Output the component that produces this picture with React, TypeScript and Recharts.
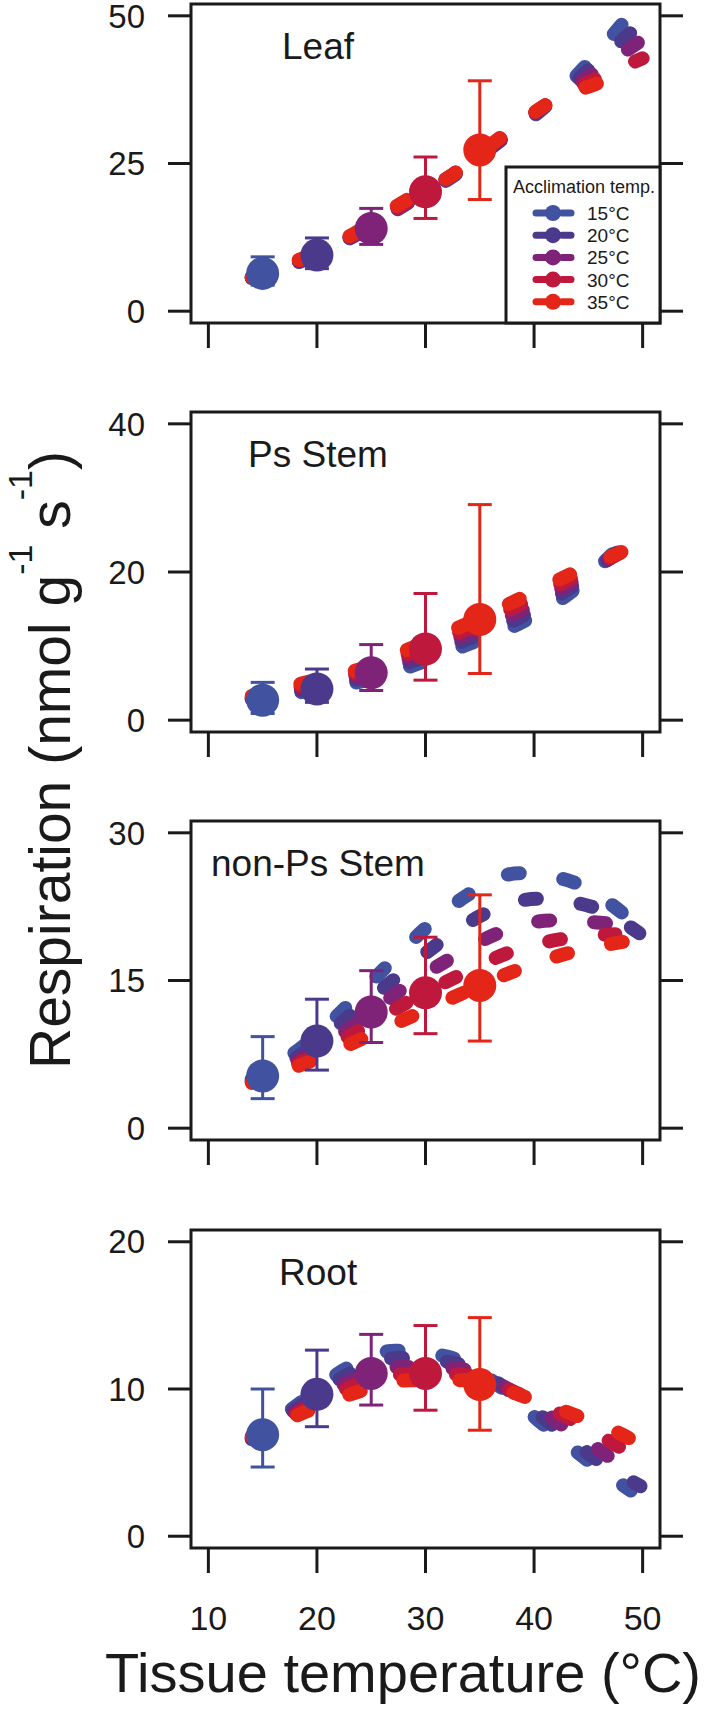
import React from 'react';
import { ComposedChart, Line, Scatter, XAxis, YAxis, ErrorBar, ReferenceArea } from 'recharts';

const FONT = '"Liberation Sans", Arial, Helvetica, sans-serif';
const INK = '#1a1a1a';

const acclimTemps = [15, 20, 25, 30, 35];
const acclimLabels = ['15°C', '20°C', '25°C', '30°C', '35°C'];
const acclimColors = ['#4152a0', '#4b3a8c', '#7e2378', '#be193c', '#e42618'];

const tempTicks = [10, 20, 30, 40, 50];

// [tissue temp, respiration] per acclimation temp (15 -> 35)
const leafCurves = [
    [[14, 5.6], [19, 8.8], [23.5, 12.8], [28, 17.9], [32.5, 22.8], [37, 29.0], [41, 34.6], [44.6, 41.2], [48.3, 49.0]],
    [[14, 5.6], [19, 8.9], [23.5, 12.9], [28, 18.0], [32.5, 23.0], [37, 29.1], [41, 34.7], [45, 40.8], [49, 47.3]],
    [[14, 5.7], [19, 9.0], [23.5, 13.0], [28, 18.1], [32.5, 23.1], [37, 29.2], [41, 34.8], [45.3, 40.1], [49.6, 45.5]],
    [[14, 5.8], [19, 9.1], [23.5, 13.0], [28, 18.1], [32.5, 23.1], [37, 29.3], [41, 34.8], [45.6, 39.3], [50, 42.8]],
    [[14, 5.8], [19, 9.2], [23.4, 13.1], [27.7, 18.2], [32.6, 23.2], [36.9, 29.4], [41.1, 34.9], [45.9, 38.6], [47.5, 39.6]],
];
const leafMean = [6.4, 9.5, 14.0, 20.2, 27.3];
const leafErrLow = [2.0, 2.3, 2.7, 4.5, 8.4];
const leafErrHigh = [2.8, 2.9, 3.4, 5.9, 11.7];
const leafTicks = [0, 25, 50];

const psStemCurves = [
    [[14, 2.8], [19.5, 4.0], [24, 5.2], [28.5, 7.2], [33.5, 10.0], [39, 13.3], [43.5, 17.4], [47.2, 22.4]],
    [[14, 2.9], [19.5, 4.3], [24, 5.6], [28.5, 7.8], [33.5, 10.7], [39, 14.1], [43.5, 18.0], [47.6, 22.6]],
    [[14, 3.0], [19.5, 4.6], [24, 6.1], [28.5, 8.4], [33.5, 11.4], [39, 14.9], [43.5, 18.6], [48, 22.8]],
    [[14, 3.1], [19.5, 4.9], [24, 6.5], [28.5, 9.0], [33.5, 12.1], [39, 15.8], [43.5, 19.2], [48.5, 23.0]],
    [[14, 3.3], [19.3, 5.2], [24, 6.9], [28.5, 9.6], [33.5, 12.8], [39, 16.6], [43.5, 19.8], [49, 23.3]],
];
const psStemMean = [2.7, 4.2, 6.4, 9.6, 13.6];
const psStemErrLow = [1.8, 1.8, 2.4, 4.2, 7.3];
const psStemErrHigh = [2.4, 2.7, 3.8, 7.5, 15.5];
const psStemTicks = [0, 20, 40];

const nonPsCurves = [
    [[14, 5.0], [18.6, 8.2], [22.6, 12.2], [26.2, 16.2], [29.9, 20.2], [33.9, 23.7], [38.6, 25.9], [43.6, 25.0], [48.2, 21.8]],
    [[14, 4.9], [19, 7.8], [23, 11.4], [27.1, 15.1], [31, 18.6], [35.3, 21.7], [40.3, 23.3], [45.3, 22.5], [49.7, 19.8]],
    [[14, 4.8], [19.2, 7.4], [23.6, 10.6], [27.7, 14.0], [32.1, 17.1], [36.7, 19.8], [41.6, 21.1], [46.7, 20.8], [48.5, 20.3]],
    [[14, 4.7], [19.3, 7.1], [24, 10.0], [28.2, 12.7], [32.9, 15.4], [37.6, 17.8], [42.5, 19.2], [47.5, 19.7]],
    [[14, 4.6], [19.4, 6.8], [24.2, 9.1], [28.8, 11.4], [33.5, 13.75], [38.3, 16.0], [43.2, 17.8], [48.6, 19.0]],
];
const nonPsMean = [5.3, 8.85, 11.8, 13.75, 14.5];
const nonPsErrLow = [2.3, 2.95, 3.1, 4.15, 5.65];
const nonPsErrHigh = [4.0, 4.25, 4.2, 5.65, 9.2];
const nonPsTicks = [0, 15, 30];

const rootCurves = [
    [[14, 6.6], [18, 8.8], [22.5, 11.3], [27.2, 12.6], [32, 12.2], [36.8, 10.2], [40.6, 7.75], [44.7, 5.3], [48.9, 3.1]],
    [[14, 6.6], [18.2, 8.7], [22.9, 11.0], [27.5, 12.1], [32.4, 11.8], [37.5, 10.0], [41.6, 7.6], [45.8, 5.2], [49.8, 3.4]],
    [[14, 6.7], [18.4, 8.6], [23.3, 10.6], [27.8, 11.5], [32.8, 11.4], [38.1, 9.8], [42.6, 7.55], [46.9, 5.4]],
    [[14, 6.7], [18.6, 8.5], [23.7, 10.3], [28.2, 11.0], [33.2, 11.0], [38.8, 9.6], [43.5, 7.9], [48, 6.0]],
    [[14, 6.8], [18.8, 8.4], [24.2, 9.9], [28.6, 10.6], [33.6, 10.6], [39.4, 9.4], [44.2, 8.1], [48.9, 6.6], [49.6, 6.3]],
];
const rootMean = [6.9, 9.64, 11.06, 11.06, 10.3];
const rootErrLow = [2.2, 2.2, 2.15, 2.5, 3.1];
const rootErrHigh = [3.1, 3.0, 2.65, 3.25, 4.55];
const rootTicks = [0, 10, 20];

const W = 705;
const TOP_PAD = 20;
const X_DOMAIN: [number, number] = [8.4, 51.6];

const panels = [
    { name: 'Leaf', curves: leafCurves, mean: leafMean, lo: leafErrLow, hi: leafErrHigh, ticks: leafTicks, domain: [-2, 52], top: 4, plotH: 319, labelX: 282 },
    { name: 'Ps Stem', curves: psStemCurves, mean: psStemMean, lo: psStemErrLow, hi: psStemErrHigh, ticks: psStemTicks, domain: [-1.6, 41.6], top: 412, plotH: 320, labelX: 248 },
    { name: 'non-Ps Stem', curves: nonPsCurves, mean: nonPsMean, lo: nonPsErrLow, hi: nonPsErrHigh, ticks: nonPsTicks, domain: [-1.2, 31.2], top: 821, plotH: 319, labelX: 211 },
    { name: 'Root', curves: rootCurves, mean: rootMean, lo: rootErrLow, hi: rootErrHigh, ticks: rootTicks, domain: [-0.8, 20.8], top: 1230, plotH: 318, labelX: 279 },
];

const tickLineStyle = { stroke: INK, strokeWidth: 3 };

const Panel = ({ p, last }: { p: any; last: boolean }) => {
    const xAxisH = last ? 100 : 40;
    const height = TOP_PAD + p.plotH + xAxisH;
    return (
        <div style={{ position: 'absolute', left: 0, top: p.top - TOP_PAD }}>
            <ComposedChart width={W} height={height} margin={{ top: TOP_PAD, right: 0, bottom: 0, left: 0 }} style={{ overflow: 'visible' }}>
                <XAxis
                    type="number"
                    dataKey="t"
                    domain={X_DOMAIN}
                    ticks={tempTicks}
                    allowDataOverflow
                    interval={0}
                    height={xAxisH}
                    axisLine={false}
                    tickLine={tickLineStyle}
                    tickSize={25}
                    tickMargin={33}
                    tick={{ fill: INK, fontSize: 34, fontFamily: FONT }}
                    tickFormatter={last ? undefined : () => ''}
                />
                <YAxis
                    type="number"
                    domain={p.domain}
                    ticks={p.ticks}
                    allowDataOverflow
                    interval={0}
                    width={191}
                    axisLine={false}
                    tickLine={tickLineStyle}
                    tickSize={23}
                    tickMargin={23}
                    tick={{ fill: INK, fontSize: 33, fontFamily: FONT }}
                />
                <YAxis
                    yAxisId="r"
                    orientation="right"
                    type="number"
                    domain={p.domain}
                    ticks={p.ticks}
                    allowDataOverflow
                    interval={0}
                    width={45}
                    axisLine={false}
                    tickLine={tickLineStyle}
                    tickSize={23}
                    tickFormatter={() => ''}
                />
                <ReferenceArea
                    x1={X_DOMAIN[0]}
                    x2={X_DOMAIN[1]}
                    y1={p.domain[0]}
                    y2={p.domain[1]}
                    fill="none"
                    stroke={INK}
                    strokeWidth={3}
                    ifOverflow="visible"
                />
                {p.curves.map((c: number[][], i: number) => (
                    <Line
                        key={'l' + i}
                        data={c.map(([t, r]) => ({ t, r }))}
                        dataKey="r"
                        type="monotone"
                        stroke={acclimColors[i]}
                        strokeWidth={14}
                        strokeLinecap="round"
                        strokeDasharray="12 44"
                        strokeDashoffset={6}
                        dot={false}
                        activeDot={false}
                        isAnimationActive={false}
                    />
                ))}
                {acclimTemps.map((t, i) => (
                    <Scatter
                        key={'s' + i}
                        data={[{ t, r: p.mean[i], err: [p.lo[i], p.hi[i]] }]}
                        dataKey="r"
                        fill={acclimColors[i]}
                        shape={(sp: any) => <circle cx={sp.cx} cy={sp.cy} r={16.5} fill={acclimColors[i]} />}
                        isAnimationActive={false}
                    >
                        <ErrorBar dataKey="err" direction="y" width={12} strokeWidth={3} stroke={acclimColors[i]} />
                    </Scatter>
                ))}
            </ComposedChart>
        </div>
    );
};

export default function App() {
    return (
        <div style={{ position: 'absolute', left: 0, top: 0, width: W, height: 1712, background: '#fff', fontFamily: FONT, overflow: 'hidden' }}>
            {panels.map((p, i) => (
                <Panel key={p.name} p={p} last={i === panels.length - 1} />
            ))}
            <svg width={W} height={1712} style={{ position: 'absolute', left: 0, top: 0, pointerEvents: 'none' }}>
                {/* panel names */}
                {panels.map((p) => (
                    <text key={p.name} x={p.labelX} y={p.top + 55} fontSize={37} fontFamily={FONT} fill={INK}>
                        {p.name}
                    </text>
                ))}

                {/* legend */}
                <rect x={506} y={167} width={154} height={156} fill="#fff" stroke={INK} strokeWidth={3} />
                <text x={584} y={193} textAnchor="middle" fontSize={18} fontFamily={FONT} fill={INK}>
                    Acclimation temp.
                </text>
                {acclimLabels.map((lab, i) => {
                    const cy = 213 + i * 22.2;
                    return (
                        <g key={lab}>
                            <line x1={536} x2={548} y1={cy} y2={cy} stroke={acclimColors[i]} strokeWidth={7} strokeLinecap="round" />
                            <circle cx={553} cy={cy} r={8} fill={acclimColors[i]} />
                            <line x1={562} x2={571} y1={cy} y2={cy} stroke={acclimColors[i]} strokeWidth={7} strokeLinecap="round" />
                            <text x={587} y={cy + 7} fontSize={19} fontFamily={FONT} fill={INK}>
                                {lab}
                            </text>
                        </g>
                    );
                })}

                {/* axis titles */}
                <text
                    x={70}
                    y={760}
                    transform="rotate(-90 70 760)"
                    textAnchor="middle"
                    fontSize={57}
                    fontFamily={FONT}
                    fill={INK}
                >
                    Respiration (nmol g<tspan dy={-38} fontSize={34}>-1</tspan>
                    <tspan dy={38}> s</tspan>
                    <tspan dy={-38} fontSize={34}>-1</tspan>
                    <tspan dy={38}>)</tspan>
                </text>
                <text x={403} y={1692} textAnchor="middle" fontSize={56} fontFamily={FONT} fill={INK}>
                    Tissue temperature (°C)
                </text>
            </svg>
        </div>
    );
}
